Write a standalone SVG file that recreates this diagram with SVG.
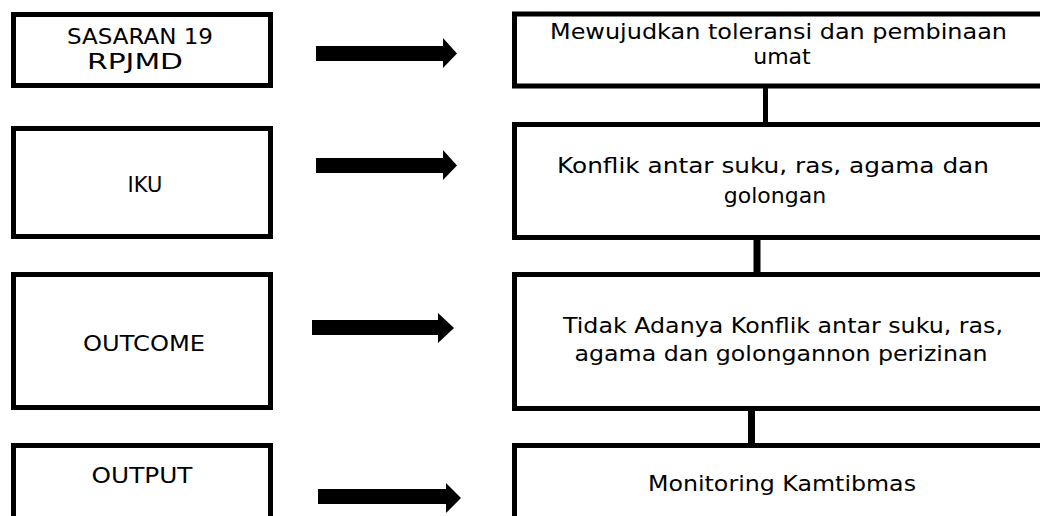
<svg xmlns="http://www.w3.org/2000/svg" width="1040" height="516" viewBox="0 0 1040 516">
<style>
.box{fill:#fff;stroke:#000;stroke-width:5}
.lt{font-family:"DejaVu Sans",sans-serif;font-size:21px;fill:#000;text-anchor:middle}
.rt{font-family:"DejaVu Sans",sans-serif;font-size:22px;fill:#000;text-anchor:middle}
.arr{fill:#000}
.ln{stroke:#000}
</style>
<rect width="1040" height="516" fill="#fff"/>
<g id="connectors">
<line class="ln" x1="765.5" y1="86" x2="765.5" y2="124" stroke-width="5"/>
<line class="ln" x1="757" y1="237" x2="757" y2="274" stroke-width="7"/>
<line class="ln" x1="751.5" y1="408" x2="751.5" y2="446" stroke-width="7"/>
<polygon class="arr" points="316,46 443,46 443,38 457,53.5 443,68 443,61 316,61"/>
<polygon class="arr" points="316,158 443,158 443,150 457,165.5 443,180 443,173 316,173"/>
<polygon class="arr" points="312,320 438,320 438,313 454,328 438,343 438,335 312,335"/>
<polygon class="arr" points="318,489 446,489 446,483 461,498 446,513 446,504 318,504"/>
</g>
<g id="sasaran">
<rect class="box" x="13.5" y="14.5" width="257" height="71"/>
<text class="lt" x="140" y="44" textLength="146" lengthAdjust="spacingAndGlyphs">SASARAN 19</text>
<text class="lt" x="135" y="69" textLength="96" lengthAdjust="spacingAndGlyphs">RPJMD</text>
</g>
<g id="iku">
<rect class="box" x="13.5" y="128.5" width="257" height="108"/>
<text class="lt" x="145" y="192">IKU</text>
</g>
<g id="outcome">
<rect class="box" x="13.5" y="274.5" width="257" height="133"/>
<text class="lt" x="144" y="351" textLength="122" lengthAdjust="spacingAndGlyphs">OUTCOME</text>
</g>
<g id="output">
<rect class="box" x="13.5" y="445.5" width="257" height="90"/>
<text class="lt" x="142" y="483" textLength="101" lengthAdjust="spacingAndGlyphs">OUTPUT</text>
</g>
<g id="mewujudkan">
<rect class="box" x="514.5" y="14" width="540" height="72"/>
<text class="rt" x="778.5" y="39" textLength="457" lengthAdjust="spacingAndGlyphs">Mewujudkan toleransi dan pembinaan</text>
<text class="rt" x="782" y="64">umat</text>
</g>
<g id="konflik">
<rect class="box" x="514.5" y="124.5" width="540" height="113"/>
<text class="rt" x="773" y="173" textLength="432" lengthAdjust="spacingAndGlyphs">Konflik antar suku, ras, agama dan</text>
<text class="rt" x="775" y="203">golongan</text>
</g>
<g id="tidak">
<rect class="box" x="514.5" y="274.5" width="540" height="134"/>
<text class="rt" x="783" y="333" textLength="440" lengthAdjust="spacingAndGlyphs">Tidak Adanya Konflik antar suku, ras,</text>
<text class="rt" x="781" y="361" textLength="413" lengthAdjust="spacingAndGlyphs">agama dan golongannon perizinan</text>
</g>
<g id="monitoring">
<rect class="box" x="514.5" y="445.5" width="540" height="90"/>
<text class="rt" x="782" y="491" textLength="268" lengthAdjust="spacingAndGlyphs">Monitoring Kamtibmas</text>
</g>
</svg>
